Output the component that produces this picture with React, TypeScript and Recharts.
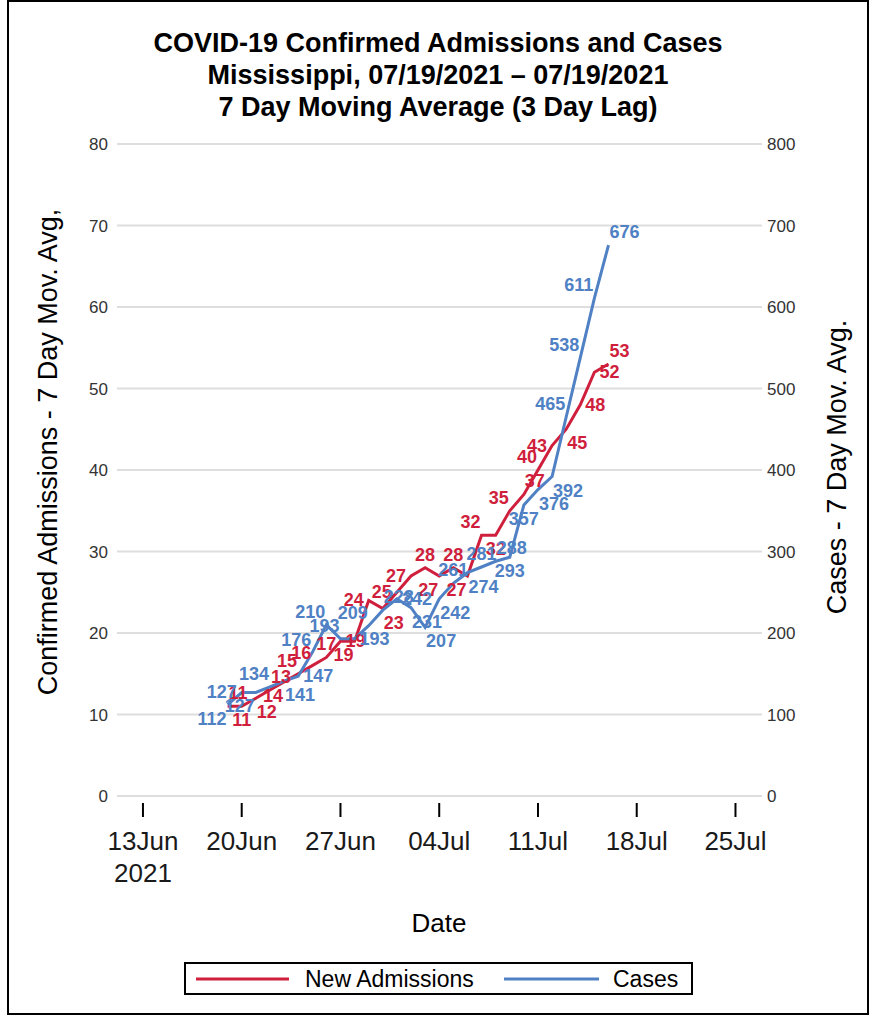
import { CartesianGrid, LabelList, Line, LineChart, XAxis, YAxis } from "recharts";

const FONT = "'Liberation Sans', Arial, Helvetica, sans-serif";
const RED = "#cf1f3d";
const BLUE = "#4f81c4";

const dates = [
  "2021-06-19", "2021-06-20", "2021-06-21", "2021-06-22", "2021-06-23", "2021-06-24", "2021-06-25",
  "2021-06-26", "2021-06-27", "2021-06-28", "2021-06-29", "2021-06-30", "2021-07-01", "2021-07-02",
  "2021-07-03", "2021-07-04", "2021-07-05", "2021-07-06", "2021-07-07", "2021-07-08", "2021-07-09",
  "2021-07-10", "2021-07-11", "2021-07-12", "2021-07-13", "2021-07-14", "2021-07-15", "2021-07-16",
];

const admissions = [
  11, 11, 12, 13, 14, 15, 16, 17, 19, 19, 24, 23, 25, 27,
  28, 27, 28, 27, 32, 32, 35, 37, 40, 43, 45, 48, 52, 53,
];

const cases = [
  112, 127, 127, 134, 141, 147, 176, 210, 193, 193, 209, 228, 242, 231,
  207, 242, 261, 274, 281, 288, 293, 357, 376, 392, 465, 538, 611, 676,
];

const tickDates = ["2021-06-13", "2021-06-20", "2021-06-27", "2021-07-04", "2021-07-11", "2021-07-18", "2021-07-25"];
const tickLabels = ["13Jun", "20Jun", "27Jun", "04Jul", "11Jul", "18Jul", "25Jul"];
const leftTicks = [0, 10, 20, 30, 40, 50, 60, 70, 80];
const rightTicks = [0, 100, 200, 300, 400, 500, 600, 700, 800];

// where each point label sits around its point (compass direction), like the SAS label placement
const redPlace = [
  "ne", "s", "se", "ne", "sw", "nw", "nw", "n", "e", "sw", "w", "se", "w", "w",
  "n", "sw", "n", "sw", "nw", "s", "nw", "ne", "nw", "w", "se", "e", "e", "ne",
];
const bluePlace = [
  "sw", "w", "sw", "nw", "se", "e", "nw", "nw", "nw", "e", "nw", "ne", "e", "se",
  "se", "se", "n", "se", "n", "ne", "s", "s", "se", "se", "nw", "nw", "nw", "ne",
];

const DAY = 86400000;
const origin = Date.parse("2021-06-13");
const toDay = (d: string) => (Date.parse(d) - origin) / DAY;

const data = dates.map((d, i) => ({
  day: toDay(d),
  admissions: admissions[i],
  cases: cases[i],
}));

const xTicks = tickDates.map(toDay);

function DateTick({ x, y, payload, index }: any) {
  const i = xTicks.indexOf(payload.value);
  return (
    <g>
      <line x1={x} x2={x} y1={y + 7} y2={y + 21} stroke="#000" strokeWidth={2} />
      <text x={x} y={y + 54} textAnchor="middle" fontSize={26} fill="#1a1a1a" fontFamily={FONT}>
        {tickLabels[i]}
      </text>
      {index === 0 && (
        <text x={x} y={y + 86} textAnchor="middle" fontSize={26} fill="#1a1a1a" fontFamily={FONT}>
          2021
        </text>
      )}
    </g>
  );
}

function placeLabel(x: number, y: number, where: string) {
  let dx = 0;
  let dy = 6;
  let anchor = "middle";
  if (where.includes("n")) dy = -7;
  if (where.includes("s")) dy = 20;
  if (where.includes("e")) {
    dx = where.length === 1 ? 5 : 1;
    anchor = "start";
  }
  if (where.includes("w")) {
    dx = where.length === 1 ? -5 : -1;
    anchor = "end";
  }
  return { x: x + dx, y: y + dy, anchor };
}

function makeLabel(color: string, places: string[]) {
  return function PointLabel({ x, y, value, index }: any) {
    const p = placeLabel(x, y, places[index] || "n");
    return (
      <text x={p.x} y={p.y} textAnchor={p.anchor} fontSize={18} fontWeight="bold" fill={color} fontFamily={FONT}>
        {value}
      </text>
    );
  };
}

const RedLabel = makeLabel(RED, redPlace);
const BlueLabel = makeLabel(BLUE, bluePlace);

export default function App() {
  return (
    <div style={{ position: "absolute", left: 0, top: 0, width: 871, height: 1016, background: "#fff", overflow: "hidden" }}>
      <div
        style={{
          position: "absolute",
          left: 7,
          top: 0,
          width: 858,
          height: 1011,
          border: "2px solid #000",
        }}
      />
      <div style={{ position: "absolute", left: 0, top: 0 }}>
        <LineChart
          width={871}
          height={1016}
          data={data}
          margin={{ top: 144, right: 49, bottom: 180, left: 57 }}
        >
          <CartesianGrid yAxisId="left" vertical={false} stroke="#dedede" strokeWidth={2} />
          <XAxis
            dataKey="day"
            type="number"
            domain={[-1.84, 43.88]}
            ticks={xTicks}
            interval={0}
            axisLine={false}
            tickLine={false}
            tickSize={0}
            tickMargin={0}
            height={40}
            tick={<DateTick />}
          />
          <YAxis
            yAxisId="left"
            orientation="left"
            domain={[0, 80]}
            ticks={leftTicks}
            interval={0}
            width={60}
            axisLine={false}
            tickLine={false}
            tickSize={0}
            tickMargin={9}
            tick={{ fontSize: 17, fill: "#333", fontFamily: FONT }}
          />
          <YAxis
            yAxisId="right"
            orientation="right"
            domain={[0, 800]}
            ticks={rightTicks}
            interval={0}
            width={60}
            axisLine={false}
            tickLine={false}
            tickSize={0}
            tickMargin={5}
            tick={{ fontSize: 17, fill: "#333", fontFamily: FONT }}
          />
          <Line
            yAxisId="left"
            dataKey="admissions"
            type="linear"
            stroke={RED}
            strokeWidth={3}
            dot={false}
            isAnimationActive={false}
          >
            <LabelList dataKey="admissions" content={<RedLabel />} />
          </Line>
          <Line
            yAxisId="right"
            dataKey="cases"
            type="linear"
            stroke={BLUE}
            strokeWidth={3}
            dot={false}
            isAnimationActive={false}
          >
            <LabelList dataKey="cases" content={<BlueLabel />} />
          </Line>
        </LineChart>
      </div>
      <svg
        width={871}
        height={1016}
        style={{ position: "absolute", left: 0, top: 0, pointerEvents: "none" }}
        fontFamily={FONT}
      >
        <g fontSize={27} fontWeight="bold" fill="#000" textAnchor="middle">
          <text x={438} y={52}>COVID-19 Confirmed Admissions and Cases</text>
          <text x={438} y={84}>Mississippi, 07/19/2021 – 07/19/2021</text>
          <text x={438} y={116}>7 Day Moving Average (3 Day Lag)</text>
        </g>
        <text x={0} y={0} fontSize={27} textAnchor="middle" transform="translate(57,452) rotate(-90)">
          Confirmed Admissions - 7 Day Mov. Avg,
        </text>
        <text x={0} y={0} fontSize={27} textAnchor="middle" transform="translate(846,467) rotate(-90)">
          Cases - 7 Day Mov. Avg.
        </text>
        <text x={439} y={932} fontSize={26} textAnchor="middle">
          Date
        </text>
        <rect x={185} y={963} width={507} height={31} fill="#fff" stroke="#000" strokeWidth={2} />
        <line x1={196} x2={289} y1={979} y2={979} stroke={RED} strokeWidth={3} />
        <text x={305} y={987} fontSize={23}>New Admissions</text>
        <line x1={504} x2={599} y1={979} y2={979} stroke={BLUE} strokeWidth={3} />
        <text x={613} y={987} fontSize={23}>Cases</text>
      </svg>
    </div>
  );
}
